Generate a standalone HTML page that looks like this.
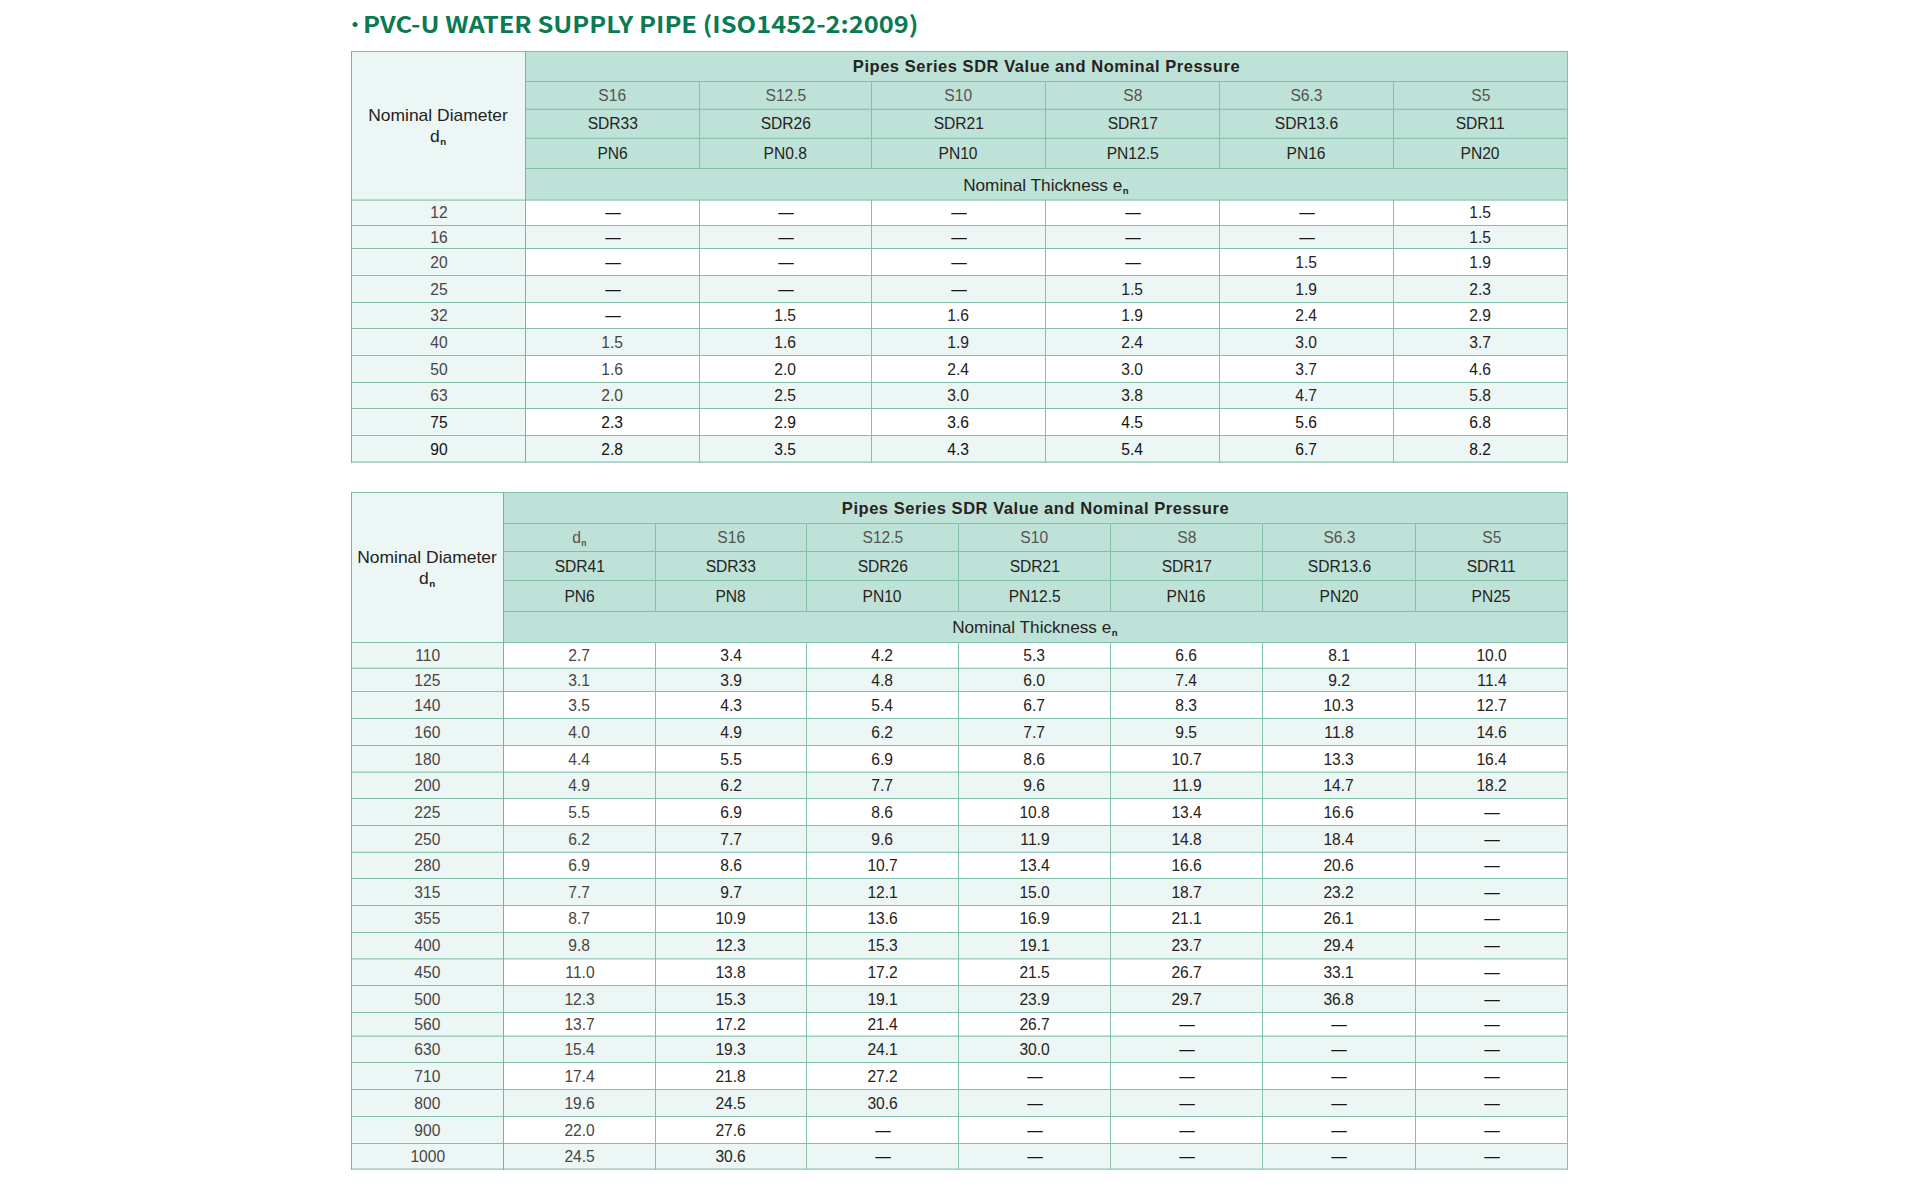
<!DOCTYPE html>
<html lang="en"><head><meta charset="utf-8"><title>PVC-U WATER SUPPLY PIPE</title>
<style>
html,body{margin:0;padding:0;background:#fff;}
body{width:1920px;height:1198px;position:relative;overflow:hidden;font-family:"Liberation Sans",Arial,sans-serif;color:#272220;font-size:16px;}
.c{position:absolute;box-sizing:border-box;}
.lt{background:#ebf6f5;}
.dk{background:#bee2d8;}
.wh{background:#fff;}
.t{text-align:center;white-space:nowrap;}
.t span,.nd span{display:inline-block;}
.t span{transform:scaleX(.975);}
.nd{display:flex;align-items:center;justify-content:center;text-align:center;white-space:nowrap;}
.nd span{font-size:15.75px;line-height:21px;transform:scaleX(1.108);position:relative;top:0px;}
.hb span{font-weight:bold;font-size:16.5px;letter-spacing:.54px;transform:none;}
.nt span{font-size:15.75px;transform:scaleX(1.09);position:relative;left:-1px;top:1px;}
.g{color:#575350;}
.k{color:#151211;}
.y{color:#4a4542;}
.d{color:#1c1715;}
sub{font-size:8.75px;font-weight:bold;vertical-align:baseline;position:relative;top:3px;margin-left:.5px;line-height:0;}
.hl{position:absolute;height:1px;background:#80bfa9;}
.vl{position:absolute;width:1px;background:#84c1ac;}
.vd{background:#70b8a0;}
#title{position:absolute;left:363px;top:6px;font-family:"Noto Sans CJK SC","Liberation Sans",sans-serif;font-weight:bold;font-size:23px;line-height:34px;color:#0a7a52;white-space:nowrap;}
#title span{display:inline-block;transform-origin:0 50%;transform:scaleX(1.105);}
#dot{position:absolute;left:340px;top:7px;width:30px;text-align:center;font-family:"Noto Sans CJK SC",sans-serif;font-weight:bold;font-size:20px;line-height:34px;color:#0a7a52;}
</style></head><body>
<div id="dot">·</div><div id="title"><span>PVC-U WATER SUPPLY PIPE (ISO1452-2:2009)</span></div>
<div class="c lt" style="left:351px;top:51px;width:174px;height:149px;"></div>
<div class="c nd" style="left:352px;top:52px;width:173px;height:148px"><span>Nominal Diameter<br>d<sub>n</sub></span></div>
<div class="c dk" style="left:525px;top:51px;width:1042px;height:149px;"></div>
<div class="c t hb" style="left:526px;top:52px;width:1041px;height:29px;line-height:29px"><span>Pipes Series SDR Value and Nominal Pressure</span></div>
<div class="c t h g" style="left:526px;top:82px;width:173px;height:27px;line-height:27px"><span>S16</span></div>
<div class="c t h g" style="left:700px;top:82px;width:171px;height:27px;line-height:27px"><span>S12.5</span></div>
<div class="c t h g" style="left:872px;top:82px;width:173px;height:27px;line-height:27px"><span>S10</span></div>
<div class="c t h g" style="left:1046px;top:82px;width:173px;height:27px;line-height:27px"><span>S8</span></div>
<div class="c t h g" style="left:1220px;top:82px;width:173px;height:27px;line-height:27px"><span>S6.3</span></div>
<div class="c t h g" style="left:1394px;top:82px;width:173px;height:27px;line-height:27px"><span>S5</span></div>
<div class="c t h" style="left:526px;top:110px;width:173px;height:28px;line-height:28px"><span>SDR33</span></div>
<div class="c t h" style="left:700px;top:110px;width:171px;height:28px;line-height:28px"><span>SDR26</span></div>
<div class="c t h" style="left:872px;top:110px;width:173px;height:28px;line-height:28px"><span>SDR21</span></div>
<div class="c t h" style="left:1046px;top:110px;width:173px;height:28px;line-height:28px"><span>SDR17</span></div>
<div class="c t h" style="left:1220px;top:110px;width:173px;height:28px;line-height:28px"><span>SDR13.6</span></div>
<div class="c t h" style="left:1394px;top:110px;width:173px;height:28px;line-height:28px"><span>SDR11</span></div>
<div class="c t h" style="left:526px;top:139px;width:173px;height:29px;line-height:29px"><span>PN6</span></div>
<div class="c t h" style="left:700px;top:139px;width:171px;height:29px;line-height:29px"><span>PN0.8</span></div>
<div class="c t h" style="left:872px;top:139px;width:173px;height:29px;line-height:29px"><span>PN10</span></div>
<div class="c t h" style="left:1046px;top:139px;width:173px;height:29px;line-height:29px"><span>PN12.5</span></div>
<div class="c t h" style="left:1220px;top:139px;width:173px;height:29px;line-height:29px"><span>PN16</span></div>
<div class="c t h" style="left:1394px;top:139px;width:173px;height:29px;line-height:29px"><span>PN20</span></div>
<div class="c t nt" style="left:526px;top:169px;width:1041px;height:31px;line-height:31px"><span>Nominal Thickness e<sub>n</sub></span></div>
<div class="c wh" style="left:351px;top:200px;width:1216px;height:25px;"></div>
<div class="c lt" style="left:351px;top:200px;width:174px;height:25px;"></div>
<div class="c t  y" style="left:352px;top:201px;width:173px;height:24px;line-height:24px"><span>12</span></div>
<div class="c t d y" style="left:526px;top:201px;width:173px;height:24px;line-height:24px"><span>—</span></div>
<div class="c t d" style="left:700px;top:201px;width:171px;height:24px;line-height:24px"><span>—</span></div>
<div class="c t d" style="left:872px;top:201px;width:173px;height:24px;line-height:24px"><span>—</span></div>
<div class="c t d" style="left:1046px;top:201px;width:173px;height:24px;line-height:24px"><span>—</span></div>
<div class="c t d" style="left:1220px;top:201px;width:173px;height:24px;line-height:24px"><span>—</span></div>
<div class="c t " style="left:1394px;top:201px;width:173px;height:24px;line-height:24px"><span>1.5</span></div>
<div class="c lt" style="left:351px;top:225px;width:1216px;height:23px;"></div>
<div class="c lt" style="left:351px;top:225px;width:174px;height:23px;"></div>
<div class="c t  y" style="left:352px;top:227px;width:173px;height:22px;line-height:22px"><span>16</span></div>
<div class="c t d y" style="left:526px;top:227px;width:173px;height:22px;line-height:22px"><span>—</span></div>
<div class="c t d" style="left:700px;top:227px;width:171px;height:22px;line-height:22px"><span>—</span></div>
<div class="c t d" style="left:872px;top:227px;width:173px;height:22px;line-height:22px"><span>—</span></div>
<div class="c t d" style="left:1046px;top:227px;width:173px;height:22px;line-height:22px"><span>—</span></div>
<div class="c t d" style="left:1220px;top:227px;width:173px;height:22px;line-height:22px"><span>—</span></div>
<div class="c t " style="left:1394px;top:227px;width:173px;height:22px;line-height:22px"><span>1.5</span></div>
<div class="c wh" style="left:351px;top:248px;width:1216px;height:27px;"></div>
<div class="c lt" style="left:351px;top:248px;width:174px;height:27px;"></div>
<div class="c t  y" style="left:352px;top:250px;width:173px;height:26px;line-height:26px"><span>20</span></div>
<div class="c t d y" style="left:526px;top:250px;width:173px;height:26px;line-height:26px"><span>—</span></div>
<div class="c t d" style="left:700px;top:250px;width:171px;height:26px;line-height:26px"><span>—</span></div>
<div class="c t d" style="left:872px;top:250px;width:173px;height:26px;line-height:26px"><span>—</span></div>
<div class="c t d" style="left:1046px;top:250px;width:173px;height:26px;line-height:26px"><span>—</span></div>
<div class="c t " style="left:1220px;top:250px;width:173px;height:26px;line-height:26px"><span>1.5</span></div>
<div class="c t " style="left:1394px;top:250px;width:173px;height:26px;line-height:26px"><span>1.9</span></div>
<div class="c lt" style="left:351px;top:275px;width:1216px;height:27px;"></div>
<div class="c lt" style="left:351px;top:275px;width:174px;height:27px;"></div>
<div class="c t  y" style="left:352px;top:277px;width:173px;height:26px;line-height:26px"><span>25</span></div>
<div class="c t d y" style="left:526px;top:277px;width:173px;height:26px;line-height:26px"><span>—</span></div>
<div class="c t d" style="left:700px;top:277px;width:171px;height:26px;line-height:26px"><span>—</span></div>
<div class="c t d" style="left:872px;top:277px;width:173px;height:26px;line-height:26px"><span>—</span></div>
<div class="c t " style="left:1046px;top:277px;width:173px;height:26px;line-height:26px"><span>1.5</span></div>
<div class="c t " style="left:1220px;top:277px;width:173px;height:26px;line-height:26px"><span>1.9</span></div>
<div class="c t " style="left:1394px;top:277px;width:173px;height:26px;line-height:26px"><span>2.3</span></div>
<div class="c wh" style="left:351px;top:302px;width:1216px;height:26px;"></div>
<div class="c lt" style="left:351px;top:302px;width:174px;height:26px;"></div>
<div class="c t  y" style="left:352px;top:303px;width:173px;height:25px;line-height:25px"><span>32</span></div>
<div class="c t d y" style="left:526px;top:303px;width:173px;height:25px;line-height:25px"><span>—</span></div>
<div class="c t " style="left:700px;top:303px;width:171px;height:25px;line-height:25px"><span>1.5</span></div>
<div class="c t " style="left:872px;top:303px;width:173px;height:25px;line-height:25px"><span>1.6</span></div>
<div class="c t " style="left:1046px;top:303px;width:173px;height:25px;line-height:25px"><span>1.9</span></div>
<div class="c t " style="left:1220px;top:303px;width:173px;height:25px;line-height:25px"><span>2.4</span></div>
<div class="c t " style="left:1394px;top:303px;width:173px;height:25px;line-height:25px"><span>2.9</span></div>
<div class="c lt" style="left:351px;top:328px;width:1216px;height:27px;"></div>
<div class="c lt" style="left:351px;top:328px;width:174px;height:27px;"></div>
<div class="c t  y" style="left:352px;top:330px;width:173px;height:26px;line-height:26px"><span>40</span></div>
<div class="c t  y" style="left:526px;top:330px;width:173px;height:26px;line-height:26px"><span>1.5</span></div>
<div class="c t " style="left:700px;top:330px;width:171px;height:26px;line-height:26px"><span>1.6</span></div>
<div class="c t " style="left:872px;top:330px;width:173px;height:26px;line-height:26px"><span>1.9</span></div>
<div class="c t " style="left:1046px;top:330px;width:173px;height:26px;line-height:26px"><span>2.4</span></div>
<div class="c t " style="left:1220px;top:330px;width:173px;height:26px;line-height:26px"><span>3.0</span></div>
<div class="c t " style="left:1394px;top:330px;width:173px;height:26px;line-height:26px"><span>3.7</span></div>
<div class="c wh" style="left:351px;top:355px;width:1216px;height:27px;"></div>
<div class="c lt" style="left:351px;top:355px;width:174px;height:27px;"></div>
<div class="c t  y" style="left:352px;top:357px;width:173px;height:26px;line-height:26px"><span>50</span></div>
<div class="c t  y" style="left:526px;top:357px;width:173px;height:26px;line-height:26px"><span>1.6</span></div>
<div class="c t " style="left:700px;top:357px;width:171px;height:26px;line-height:26px"><span>2.0</span></div>
<div class="c t " style="left:872px;top:357px;width:173px;height:26px;line-height:26px"><span>2.4</span></div>
<div class="c t " style="left:1046px;top:357px;width:173px;height:26px;line-height:26px"><span>3.0</span></div>
<div class="c t " style="left:1220px;top:357px;width:173px;height:26px;line-height:26px"><span>3.7</span></div>
<div class="c t " style="left:1394px;top:357px;width:173px;height:26px;line-height:26px"><span>4.6</span></div>
<div class="c lt" style="left:351px;top:382px;width:1216px;height:26px;"></div>
<div class="c lt" style="left:351px;top:382px;width:174px;height:26px;"></div>
<div class="c t  y" style="left:352px;top:383px;width:173px;height:25px;line-height:25px"><span>63</span></div>
<div class="c t  y" style="left:526px;top:383px;width:173px;height:25px;line-height:25px"><span>2.0</span></div>
<div class="c t " style="left:700px;top:383px;width:171px;height:25px;line-height:25px"><span>2.5</span></div>
<div class="c t " style="left:872px;top:383px;width:173px;height:25px;line-height:25px"><span>3.0</span></div>
<div class="c t " style="left:1046px;top:383px;width:173px;height:25px;line-height:25px"><span>3.8</span></div>
<div class="c t " style="left:1220px;top:383px;width:173px;height:25px;line-height:25px"><span>4.7</span></div>
<div class="c t " style="left:1394px;top:383px;width:173px;height:25px;line-height:25px"><span>5.8</span></div>
<div class="c wh" style="left:351px;top:408px;width:1216px;height:27px;"></div>
<div class="c lt" style="left:351px;top:408px;width:174px;height:27px;"></div>
<div class="c t  k" style="left:352px;top:410px;width:173px;height:26px;line-height:26px"><span>75</span></div>
<div class="c t  k" style="left:526px;top:410px;width:173px;height:26px;line-height:26px"><span>2.3</span></div>
<div class="c t  k" style="left:700px;top:410px;width:171px;height:26px;line-height:26px"><span>2.9</span></div>
<div class="c t  k" style="left:872px;top:410px;width:173px;height:26px;line-height:26px"><span>3.6</span></div>
<div class="c t  k" style="left:1046px;top:410px;width:173px;height:26px;line-height:26px"><span>4.5</span></div>
<div class="c t  k" style="left:1220px;top:410px;width:173px;height:26px;line-height:26px"><span>5.6</span></div>
<div class="c t  k" style="left:1394px;top:410px;width:173px;height:26px;line-height:26px"><span>6.8</span></div>
<div class="c lt" style="left:351px;top:435px;width:1216px;height:27px;"></div>
<div class="c lt" style="left:351px;top:435px;width:174px;height:27px;"></div>
<div class="c t  k" style="left:352px;top:437px;width:173px;height:26px;line-height:26px"><span>90</span></div>
<div class="c t  k" style="left:526px;top:437px;width:173px;height:26px;line-height:26px"><span>2.8</span></div>
<div class="c t  k" style="left:700px;top:437px;width:171px;height:26px;line-height:26px"><span>3.5</span></div>
<div class="c t  k" style="left:872px;top:437px;width:173px;height:26px;line-height:26px"><span>4.3</span></div>
<div class="c t  k" style="left:1046px;top:437px;width:173px;height:26px;line-height:26px"><span>5.4</span></div>
<div class="c t  k" style="left:1220px;top:437px;width:173px;height:26px;line-height:26px"><span>6.7</span></div>
<div class="c t  k" style="left:1394px;top:437px;width:173px;height:26px;line-height:26px"><span>8.2</span></div>
<div class="hl" style="left:351px;top:51px;width:1217px"></div>
<div class="hl" style="left:525px;top:81px;width:1043px"></div>
<div class="hl" style="left:525px;top:108px;width:1043px;opacity:0.25"></div>
<div class="hl" style="left:525px;top:109px;width:1043px;opacity:0.85"></div>
<div class="hl" style="left:525px;top:137px;width:1043px;opacity:0.30"></div>
<div class="hl" style="left:525px;top:138px;width:1043px;opacity:0.80"></div>
<div class="hl" style="left:525px;top:168px;width:1043px"></div>
<div class="hl" style="left:351px;top:199px;width:1217px;opacity:0.47"></div>
<div class="hl" style="left:351px;top:200px;width:1217px;opacity:0.63"></div>
<div class="hl" style="left:351px;top:225px;width:1217px"></div>
<div class="hl" style="left:351px;top:248px;width:1217px"></div>
<div class="hl" style="left:351px;top:275px;width:1217px"></div>
<div class="hl" style="left:351px;top:302px;width:1217px"></div>
<div class="hl" style="left:351px;top:328px;width:1217px"></div>
<div class="hl" style="left:351px;top:355px;width:1217px"></div>
<div class="hl" style="left:351px;top:382px;width:1217px"></div>
<div class="hl" style="left:351px;top:408px;width:1217px"></div>
<div class="hl" style="left:351px;top:435px;width:1217px"></div>
<div class="hl" style="left:351px;top:461px;width:1217px;opacity:0.45"></div>
<div class="hl" style="left:351px;top:462px;width:1217px;opacity:0.65"></div>
<div class="vl vd" style="left:351px;top:51px;height:412px"></div>
<div class="vl vd" style="left:525px;top:51px;height:412px"></div>
<div class="vl " style="left:1567px;top:51px;height:412px"></div>
<div class="vl " style="left:699px;top:81px;height:88px"></div>
<div class="vl " style="left:699px;top:200px;height:263px"></div>
<div class="vl " style="left:871px;top:81px;height:88px"></div>
<div class="vl " style="left:871px;top:200px;height:263px"></div>
<div class="vl " style="left:1045px;top:81px;height:88px"></div>
<div class="vl " style="left:1045px;top:200px;height:263px"></div>
<div class="vl " style="left:1219px;top:81px;height:88px"></div>
<div class="vl " style="left:1219px;top:200px;height:263px"></div>
<div class="vl " style="left:1393px;top:81px;height:88px"></div>
<div class="vl " style="left:1393px;top:200px;height:263px"></div>
<div class="c lt" style="left:351px;top:492px;width:152px;height:150px;"></div>
<div class="c nd" style="left:352px;top:493px;width:151px;height:149px"><span>Nominal Diameter<br>d<sub>n</sub></span></div>
<div class="c dk" style="left:503px;top:492px;width:1064px;height:150px;"></div>
<div class="c t hb" style="left:504px;top:493px;width:1063px;height:30px;line-height:30px"><span>Pipes Series SDR Value and Nominal Pressure</span></div>
<div class="c t h g" style="left:504px;top:524px;width:151px;height:27px;line-height:27px"><span>d<sub>n</sub></span></div>
<div class="c t h g" style="left:656px;top:524px;width:150px;height:27px;line-height:27px"><span>S16</span></div>
<div class="c t h g" style="left:807px;top:524px;width:151px;height:27px;line-height:27px"><span>S12.5</span></div>
<div class="c t h g" style="left:959px;top:524px;width:151px;height:27px;line-height:27px"><span>S10</span></div>
<div class="c t h g" style="left:1111px;top:524px;width:151px;height:27px;line-height:27px"><span>S8</span></div>
<div class="c t h g" style="left:1263px;top:524px;width:152px;height:27px;line-height:27px"><span>S6.3</span></div>
<div class="c t h g" style="left:1416px;top:524px;width:151px;height:27px;line-height:27px"><span>S5</span></div>
<div class="c t h" style="left:504px;top:553px;width:151px;height:28px;line-height:28px"><span>SDR41</span></div>
<div class="c t h" style="left:656px;top:553px;width:150px;height:28px;line-height:28px"><span>SDR33</span></div>
<div class="c t h" style="left:807px;top:553px;width:151px;height:28px;line-height:28px"><span>SDR26</span></div>
<div class="c t h" style="left:959px;top:553px;width:151px;height:28px;line-height:28px"><span>SDR21</span></div>
<div class="c t h" style="left:1111px;top:553px;width:151px;height:28px;line-height:28px"><span>SDR17</span></div>
<div class="c t h" style="left:1263px;top:553px;width:152px;height:28px;line-height:28px"><span>SDR13.6</span></div>
<div class="c t h" style="left:1416px;top:553px;width:151px;height:28px;line-height:28px"><span>SDR11</span></div>
<div class="c t h" style="left:504px;top:582px;width:151px;height:30px;line-height:30px"><span>PN6</span></div>
<div class="c t h" style="left:656px;top:582px;width:150px;height:30px;line-height:30px"><span>PN8</span></div>
<div class="c t h" style="left:807px;top:582px;width:151px;height:30px;line-height:30px"><span>PN10</span></div>
<div class="c t h" style="left:959px;top:582px;width:151px;height:30px;line-height:30px"><span>PN12.5</span></div>
<div class="c t h" style="left:1111px;top:582px;width:151px;height:30px;line-height:30px"><span>PN16</span></div>
<div class="c t h" style="left:1263px;top:582px;width:152px;height:30px;line-height:30px"><span>PN20</span></div>
<div class="c t h" style="left:1416px;top:582px;width:151px;height:30px;line-height:30px"><span>PN25</span></div>
<div class="c t nt" style="left:504px;top:612px;width:1063px;height:30px;line-height:30px"><span>Nominal Thickness e<sub>n</sub></span></div>
<div class="c wh" style="left:351px;top:642px;width:1216px;height:26px;"></div>
<div class="c lt" style="left:351px;top:642px;width:152px;height:26px;"></div>
<div class="c t  y" style="left:352px;top:643px;width:151px;height:25px;line-height:25px"><span>110</span></div>
<div class="c t  y" style="left:504px;top:643px;width:151px;height:25px;line-height:25px"><span>2.7</span></div>
<div class="c t " style="left:656px;top:643px;width:150px;height:25px;line-height:25px"><span>3.4</span></div>
<div class="c t " style="left:807px;top:643px;width:151px;height:25px;line-height:25px"><span>4.2</span></div>
<div class="c t " style="left:959px;top:643px;width:151px;height:25px;line-height:25px"><span>5.3</span></div>
<div class="c t " style="left:1111px;top:643px;width:151px;height:25px;line-height:25px"><span>6.6</span></div>
<div class="c t " style="left:1263px;top:643px;width:152px;height:25px;line-height:25px"><span>8.1</span></div>
<div class="c t " style="left:1416px;top:643px;width:151px;height:25px;line-height:25px"><span>10.0</span></div>
<div class="c lt" style="left:351px;top:668px;width:1216px;height:23px;"></div>
<div class="c lt" style="left:351px;top:668px;width:152px;height:23px;"></div>
<div class="c t  y" style="left:352px;top:670px;width:151px;height:22px;line-height:22px"><span>125</span></div>
<div class="c t  y" style="left:504px;top:670px;width:151px;height:22px;line-height:22px"><span>3.1</span></div>
<div class="c t " style="left:656px;top:670px;width:150px;height:22px;line-height:22px"><span>3.9</span></div>
<div class="c t " style="left:807px;top:670px;width:151px;height:22px;line-height:22px"><span>4.8</span></div>
<div class="c t " style="left:959px;top:670px;width:151px;height:22px;line-height:22px"><span>6.0</span></div>
<div class="c t " style="left:1111px;top:670px;width:151px;height:22px;line-height:22px"><span>7.4</span></div>
<div class="c t " style="left:1263px;top:670px;width:152px;height:22px;line-height:22px"><span>9.2</span></div>
<div class="c t " style="left:1416px;top:670px;width:151px;height:22px;line-height:22px"><span>11.4</span></div>
<div class="c wh" style="left:351px;top:691px;width:1216px;height:27px;"></div>
<div class="c lt" style="left:351px;top:691px;width:152px;height:27px;"></div>
<div class="c t  y" style="left:352px;top:693px;width:151px;height:26px;line-height:26px"><span>140</span></div>
<div class="c t  y" style="left:504px;top:693px;width:151px;height:26px;line-height:26px"><span>3.5</span></div>
<div class="c t " style="left:656px;top:693px;width:150px;height:26px;line-height:26px"><span>4.3</span></div>
<div class="c t " style="left:807px;top:693px;width:151px;height:26px;line-height:26px"><span>5.4</span></div>
<div class="c t " style="left:959px;top:693px;width:151px;height:26px;line-height:26px"><span>6.7</span></div>
<div class="c t " style="left:1111px;top:693px;width:151px;height:26px;line-height:26px"><span>8.3</span></div>
<div class="c t " style="left:1263px;top:693px;width:152px;height:26px;line-height:26px"><span>10.3</span></div>
<div class="c t " style="left:1416px;top:693px;width:151px;height:26px;line-height:26px"><span>12.7</span></div>
<div class="c lt" style="left:351px;top:718px;width:1216px;height:27px;"></div>
<div class="c lt" style="left:351px;top:718px;width:152px;height:27px;"></div>
<div class="c t  y" style="left:352px;top:720px;width:151px;height:26px;line-height:26px"><span>160</span></div>
<div class="c t  y" style="left:504px;top:720px;width:151px;height:26px;line-height:26px"><span>4.0</span></div>
<div class="c t " style="left:656px;top:720px;width:150px;height:26px;line-height:26px"><span>4.9</span></div>
<div class="c t " style="left:807px;top:720px;width:151px;height:26px;line-height:26px"><span>6.2</span></div>
<div class="c t " style="left:959px;top:720px;width:151px;height:26px;line-height:26px"><span>7.7</span></div>
<div class="c t " style="left:1111px;top:720px;width:151px;height:26px;line-height:26px"><span>9.5</span></div>
<div class="c t " style="left:1263px;top:720px;width:152px;height:26px;line-height:26px"><span>11.8</span></div>
<div class="c t " style="left:1416px;top:720px;width:151px;height:26px;line-height:26px"><span>14.6</span></div>
<div class="c wh" style="left:351px;top:745px;width:1216px;height:27px;"></div>
<div class="c lt" style="left:351px;top:745px;width:152px;height:27px;"></div>
<div class="c t  y" style="left:352px;top:747px;width:151px;height:26px;line-height:26px"><span>180</span></div>
<div class="c t  y" style="left:504px;top:747px;width:151px;height:26px;line-height:26px"><span>4.4</span></div>
<div class="c t " style="left:656px;top:747px;width:150px;height:26px;line-height:26px"><span>5.5</span></div>
<div class="c t " style="left:807px;top:747px;width:151px;height:26px;line-height:26px"><span>6.9</span></div>
<div class="c t " style="left:959px;top:747px;width:151px;height:26px;line-height:26px"><span>8.6</span></div>
<div class="c t " style="left:1111px;top:747px;width:151px;height:26px;line-height:26px"><span>10.7</span></div>
<div class="c t " style="left:1263px;top:747px;width:152px;height:26px;line-height:26px"><span>13.3</span></div>
<div class="c t " style="left:1416px;top:747px;width:151px;height:26px;line-height:26px"><span>16.4</span></div>
<div class="c lt" style="left:351px;top:772px;width:1216px;height:26px;"></div>
<div class="c lt" style="left:351px;top:772px;width:152px;height:26px;"></div>
<div class="c t  y" style="left:352px;top:773px;width:151px;height:25px;line-height:25px"><span>200</span></div>
<div class="c t  y" style="left:504px;top:773px;width:151px;height:25px;line-height:25px"><span>4.9</span></div>
<div class="c t " style="left:656px;top:773px;width:150px;height:25px;line-height:25px"><span>6.2</span></div>
<div class="c t " style="left:807px;top:773px;width:151px;height:25px;line-height:25px"><span>7.7</span></div>
<div class="c t " style="left:959px;top:773px;width:151px;height:25px;line-height:25px"><span>9.6</span></div>
<div class="c t " style="left:1111px;top:773px;width:151px;height:25px;line-height:25px"><span>11.9</span></div>
<div class="c t " style="left:1263px;top:773px;width:152px;height:25px;line-height:25px"><span>14.7</span></div>
<div class="c t " style="left:1416px;top:773px;width:151px;height:25px;line-height:25px"><span>18.2</span></div>
<div class="c wh" style="left:351px;top:798px;width:1216px;height:27px;"></div>
<div class="c lt" style="left:351px;top:798px;width:152px;height:27px;"></div>
<div class="c t  y" style="left:352px;top:800px;width:151px;height:26px;line-height:26px"><span>225</span></div>
<div class="c t  y" style="left:504px;top:800px;width:151px;height:26px;line-height:26px"><span>5.5</span></div>
<div class="c t " style="left:656px;top:800px;width:150px;height:26px;line-height:26px"><span>6.9</span></div>
<div class="c t " style="left:807px;top:800px;width:151px;height:26px;line-height:26px"><span>8.6</span></div>
<div class="c t " style="left:959px;top:800px;width:151px;height:26px;line-height:26px"><span>10.8</span></div>
<div class="c t " style="left:1111px;top:800px;width:151px;height:26px;line-height:26px"><span>13.4</span></div>
<div class="c t " style="left:1263px;top:800px;width:152px;height:26px;line-height:26px"><span>16.6</span></div>
<div class="c t d" style="left:1416px;top:800px;width:151px;height:26px;line-height:26px"><span>—</span></div>
<div class="c lt" style="left:351px;top:825px;width:1216px;height:27px;"></div>
<div class="c lt" style="left:351px;top:825px;width:152px;height:27px;"></div>
<div class="c t  y" style="left:352px;top:827px;width:151px;height:26px;line-height:26px"><span>250</span></div>
<div class="c t  y" style="left:504px;top:827px;width:151px;height:26px;line-height:26px"><span>6.2</span></div>
<div class="c t " style="left:656px;top:827px;width:150px;height:26px;line-height:26px"><span>7.7</span></div>
<div class="c t " style="left:807px;top:827px;width:151px;height:26px;line-height:26px"><span>9.6</span></div>
<div class="c t " style="left:959px;top:827px;width:151px;height:26px;line-height:26px"><span>11.9</span></div>
<div class="c t " style="left:1111px;top:827px;width:151px;height:26px;line-height:26px"><span>14.8</span></div>
<div class="c t " style="left:1263px;top:827px;width:152px;height:26px;line-height:26px"><span>18.4</span></div>
<div class="c t d" style="left:1416px;top:827px;width:151px;height:26px;line-height:26px"><span>—</span></div>
<div class="c wh" style="left:351px;top:852px;width:1216px;height:26px;"></div>
<div class="c lt" style="left:351px;top:852px;width:152px;height:26px;"></div>
<div class="c t  y" style="left:352px;top:853px;width:151px;height:25px;line-height:25px"><span>280</span></div>
<div class="c t  y" style="left:504px;top:853px;width:151px;height:25px;line-height:25px"><span>6.9</span></div>
<div class="c t " style="left:656px;top:853px;width:150px;height:25px;line-height:25px"><span>8.6</span></div>
<div class="c t " style="left:807px;top:853px;width:151px;height:25px;line-height:25px"><span>10.7</span></div>
<div class="c t " style="left:959px;top:853px;width:151px;height:25px;line-height:25px"><span>13.4</span></div>
<div class="c t " style="left:1111px;top:853px;width:151px;height:25px;line-height:25px"><span>16.6</span></div>
<div class="c t " style="left:1263px;top:853px;width:152px;height:25px;line-height:25px"><span>20.6</span></div>
<div class="c t d" style="left:1416px;top:853px;width:151px;height:25px;line-height:25px"><span>—</span></div>
<div class="c lt" style="left:351px;top:878px;width:1216px;height:27px;"></div>
<div class="c lt" style="left:351px;top:878px;width:152px;height:27px;"></div>
<div class="c t  y" style="left:352px;top:880px;width:151px;height:26px;line-height:26px"><span>315</span></div>
<div class="c t  y" style="left:504px;top:880px;width:151px;height:26px;line-height:26px"><span>7.7</span></div>
<div class="c t " style="left:656px;top:880px;width:150px;height:26px;line-height:26px"><span>9.7</span></div>
<div class="c t " style="left:807px;top:880px;width:151px;height:26px;line-height:26px"><span>12.1</span></div>
<div class="c t " style="left:959px;top:880px;width:151px;height:26px;line-height:26px"><span>15.0</span></div>
<div class="c t " style="left:1111px;top:880px;width:151px;height:26px;line-height:26px"><span>18.7</span></div>
<div class="c t " style="left:1263px;top:880px;width:152px;height:26px;line-height:26px"><span>23.2</span></div>
<div class="c t d" style="left:1416px;top:880px;width:151px;height:26px;line-height:26px"><span>—</span></div>
<div class="c wh" style="left:351px;top:905px;width:1216px;height:27px;"></div>
<div class="c lt" style="left:351px;top:905px;width:152px;height:27px;"></div>
<div class="c t  y" style="left:352px;top:906px;width:151px;height:26px;line-height:26px"><span>355</span></div>
<div class="c t  y" style="left:504px;top:906px;width:151px;height:26px;line-height:26px"><span>8.7</span></div>
<div class="c t " style="left:656px;top:906px;width:150px;height:26px;line-height:26px"><span>10.9</span></div>
<div class="c t " style="left:807px;top:906px;width:151px;height:26px;line-height:26px"><span>13.6</span></div>
<div class="c t " style="left:959px;top:906px;width:151px;height:26px;line-height:26px"><span>16.9</span></div>
<div class="c t " style="left:1111px;top:906px;width:151px;height:26px;line-height:26px"><span>21.1</span></div>
<div class="c t " style="left:1263px;top:906px;width:152px;height:26px;line-height:26px"><span>26.1</span></div>
<div class="c t d" style="left:1416px;top:906px;width:151px;height:26px;line-height:26px"><span>—</span></div>
<div class="c lt" style="left:351px;top:932px;width:1216px;height:26px;"></div>
<div class="c lt" style="left:351px;top:932px;width:152px;height:26px;"></div>
<div class="c t  y" style="left:352px;top:933px;width:151px;height:25px;line-height:25px"><span>400</span></div>
<div class="c t  y" style="left:504px;top:933px;width:151px;height:25px;line-height:25px"><span>9.8</span></div>
<div class="c t " style="left:656px;top:933px;width:150px;height:25px;line-height:25px"><span>12.3</span></div>
<div class="c t " style="left:807px;top:933px;width:151px;height:25px;line-height:25px"><span>15.3</span></div>
<div class="c t " style="left:959px;top:933px;width:151px;height:25px;line-height:25px"><span>19.1</span></div>
<div class="c t " style="left:1111px;top:933px;width:151px;height:25px;line-height:25px"><span>23.7</span></div>
<div class="c t " style="left:1263px;top:933px;width:152px;height:25px;line-height:25px"><span>29.4</span></div>
<div class="c t d" style="left:1416px;top:933px;width:151px;height:25px;line-height:25px"><span>—</span></div>
<div class="c wh" style="left:351px;top:958px;width:1216px;height:27px;"></div>
<div class="c lt" style="left:351px;top:958px;width:152px;height:27px;"></div>
<div class="c t  y" style="left:352px;top:960px;width:151px;height:26px;line-height:26px"><span>450</span></div>
<div class="c t  y" style="left:504px;top:960px;width:151px;height:26px;line-height:26px"><span>11.0</span></div>
<div class="c t " style="left:656px;top:960px;width:150px;height:26px;line-height:26px"><span>13.8</span></div>
<div class="c t " style="left:807px;top:960px;width:151px;height:26px;line-height:26px"><span>17.2</span></div>
<div class="c t " style="left:959px;top:960px;width:151px;height:26px;line-height:26px"><span>21.5</span></div>
<div class="c t " style="left:1111px;top:960px;width:151px;height:26px;line-height:26px"><span>26.7</span></div>
<div class="c t " style="left:1263px;top:960px;width:152px;height:26px;line-height:26px"><span>33.1</span></div>
<div class="c t d" style="left:1416px;top:960px;width:151px;height:26px;line-height:26px"><span>—</span></div>
<div class="c lt" style="left:351px;top:985px;width:1216px;height:27px;"></div>
<div class="c lt" style="left:351px;top:985px;width:152px;height:27px;"></div>
<div class="c t  y" style="left:352px;top:987px;width:151px;height:26px;line-height:26px"><span>500</span></div>
<div class="c t  y" style="left:504px;top:987px;width:151px;height:26px;line-height:26px"><span>12.3</span></div>
<div class="c t " style="left:656px;top:987px;width:150px;height:26px;line-height:26px"><span>15.3</span></div>
<div class="c t " style="left:807px;top:987px;width:151px;height:26px;line-height:26px"><span>19.1</span></div>
<div class="c t " style="left:959px;top:987px;width:151px;height:26px;line-height:26px"><span>23.9</span></div>
<div class="c t " style="left:1111px;top:987px;width:151px;height:26px;line-height:26px"><span>29.7</span></div>
<div class="c t " style="left:1263px;top:987px;width:152px;height:26px;line-height:26px"><span>36.8</span></div>
<div class="c t d" style="left:1416px;top:987px;width:151px;height:26px;line-height:26px"><span>—</span></div>
<div class="c wh" style="left:351px;top:1012px;width:1216px;height:24px;"></div>
<div class="c lt" style="left:351px;top:1012px;width:152px;height:24px;"></div>
<div class="c t  y" style="left:352px;top:1013px;width:151px;height:23px;line-height:23px"><span>560</span></div>
<div class="c t  y" style="left:504px;top:1013px;width:151px;height:23px;line-height:23px"><span>13.7</span></div>
<div class="c t " style="left:656px;top:1013px;width:150px;height:23px;line-height:23px"><span>17.2</span></div>
<div class="c t " style="left:807px;top:1013px;width:151px;height:23px;line-height:23px"><span>21.4</span></div>
<div class="c t " style="left:959px;top:1013px;width:151px;height:23px;line-height:23px"><span>26.7</span></div>
<div class="c t d" style="left:1111px;top:1013px;width:151px;height:23px;line-height:23px"><span>—</span></div>
<div class="c t d" style="left:1263px;top:1013px;width:152px;height:23px;line-height:23px"><span>—</span></div>
<div class="c t d" style="left:1416px;top:1013px;width:151px;height:23px;line-height:23px"><span>—</span></div>
<div class="c lt" style="left:351px;top:1036px;width:1216px;height:26px;"></div>
<div class="c lt" style="left:351px;top:1036px;width:152px;height:26px;"></div>
<div class="c t  y" style="left:352px;top:1037px;width:151px;height:25px;line-height:25px"><span>630</span></div>
<div class="c t  y" style="left:504px;top:1037px;width:151px;height:25px;line-height:25px"><span>15.4</span></div>
<div class="c t " style="left:656px;top:1037px;width:150px;height:25px;line-height:25px"><span>19.3</span></div>
<div class="c t " style="left:807px;top:1037px;width:151px;height:25px;line-height:25px"><span>24.1</span></div>
<div class="c t " style="left:959px;top:1037px;width:151px;height:25px;line-height:25px"><span>30.0</span></div>
<div class="c t d" style="left:1111px;top:1037px;width:151px;height:25px;line-height:25px"><span>—</span></div>
<div class="c t d" style="left:1263px;top:1037px;width:152px;height:25px;line-height:25px"><span>—</span></div>
<div class="c t d" style="left:1416px;top:1037px;width:151px;height:25px;line-height:25px"><span>—</span></div>
<div class="c wh" style="left:351px;top:1062px;width:1216px;height:27px;"></div>
<div class="c lt" style="left:351px;top:1062px;width:152px;height:27px;"></div>
<div class="c t  y" style="left:352px;top:1064px;width:151px;height:26px;line-height:26px"><span>710</span></div>
<div class="c t  y" style="left:504px;top:1064px;width:151px;height:26px;line-height:26px"><span>17.4</span></div>
<div class="c t " style="left:656px;top:1064px;width:150px;height:26px;line-height:26px"><span>21.8</span></div>
<div class="c t " style="left:807px;top:1064px;width:151px;height:26px;line-height:26px"><span>27.2</span></div>
<div class="c t d" style="left:959px;top:1064px;width:151px;height:26px;line-height:26px"><span>—</span></div>
<div class="c t d" style="left:1111px;top:1064px;width:151px;height:26px;line-height:26px"><span>—</span></div>
<div class="c t d" style="left:1263px;top:1064px;width:152px;height:26px;line-height:26px"><span>—</span></div>
<div class="c t d" style="left:1416px;top:1064px;width:151px;height:26px;line-height:26px"><span>—</span></div>
<div class="c lt" style="left:351px;top:1089px;width:1216px;height:27px;"></div>
<div class="c lt" style="left:351px;top:1089px;width:152px;height:27px;"></div>
<div class="c t  y" style="left:352px;top:1091px;width:151px;height:26px;line-height:26px"><span>800</span></div>
<div class="c t  y" style="left:504px;top:1091px;width:151px;height:26px;line-height:26px"><span>19.6</span></div>
<div class="c t " style="left:656px;top:1091px;width:150px;height:26px;line-height:26px"><span>24.5</span></div>
<div class="c t " style="left:807px;top:1091px;width:151px;height:26px;line-height:26px"><span>30.6</span></div>
<div class="c t d" style="left:959px;top:1091px;width:151px;height:26px;line-height:26px"><span>—</span></div>
<div class="c t d" style="left:1111px;top:1091px;width:151px;height:26px;line-height:26px"><span>—</span></div>
<div class="c t d" style="left:1263px;top:1091px;width:152px;height:26px;line-height:26px"><span>—</span></div>
<div class="c t d" style="left:1416px;top:1091px;width:151px;height:26px;line-height:26px"><span>—</span></div>
<div class="c wh" style="left:351px;top:1116px;width:1216px;height:27px;"></div>
<div class="c lt" style="left:351px;top:1116px;width:152px;height:27px;"></div>
<div class="c t  y" style="left:352px;top:1118px;width:151px;height:26px;line-height:26px"><span>900</span></div>
<div class="c t  y" style="left:504px;top:1118px;width:151px;height:26px;line-height:26px"><span>22.0</span></div>
<div class="c t " style="left:656px;top:1118px;width:150px;height:26px;line-height:26px"><span>27.6</span></div>
<div class="c t d" style="left:807px;top:1118px;width:151px;height:26px;line-height:26px"><span>—</span></div>
<div class="c t d" style="left:959px;top:1118px;width:151px;height:26px;line-height:26px"><span>—</span></div>
<div class="c t d" style="left:1111px;top:1118px;width:151px;height:26px;line-height:26px"><span>—</span></div>
<div class="c t d" style="left:1263px;top:1118px;width:152px;height:26px;line-height:26px"><span>—</span></div>
<div class="c t d" style="left:1416px;top:1118px;width:151px;height:26px;line-height:26px"><span>—</span></div>
<div class="c lt" style="left:351px;top:1143px;width:1216px;height:26px;"></div>
<div class="c lt" style="left:351px;top:1143px;width:152px;height:26px;"></div>
<div class="c t  y" style="left:352px;top:1144px;width:151px;height:25px;line-height:25px"><span>1000</span></div>
<div class="c t  y" style="left:504px;top:1144px;width:151px;height:25px;line-height:25px"><span>24.5</span></div>
<div class="c t " style="left:656px;top:1144px;width:150px;height:25px;line-height:25px"><span>30.6</span></div>
<div class="c t d" style="left:807px;top:1144px;width:151px;height:25px;line-height:25px"><span>—</span></div>
<div class="c t d" style="left:959px;top:1144px;width:151px;height:25px;line-height:25px"><span>—</span></div>
<div class="c t d" style="left:1111px;top:1144px;width:151px;height:25px;line-height:25px"><span>—</span></div>
<div class="c t d" style="left:1263px;top:1144px;width:152px;height:25px;line-height:25px"><span>—</span></div>
<div class="c t d" style="left:1416px;top:1144px;width:151px;height:25px;line-height:25px"><span>—</span></div>
<div class="hl" style="left:351px;top:492px;width:1217px"></div>
<div class="hl" style="left:503px;top:523px;width:1065px"></div>
<div class="hl" style="left:503px;top:551px;width:1065px"></div>
<div class="hl" style="left:503px;top:580px;width:1065px"></div>
<div class="hl" style="left:503px;top:611px;width:1065px"></div>
<div class="hl" style="left:351px;top:642px;width:1217px"></div>
<div class="hl" style="left:351px;top:667px;width:1217px;opacity:0.31"></div>
<div class="hl" style="left:351px;top:668px;width:1217px;opacity:0.79"></div>
<div class="hl" style="left:351px;top:691px;width:1217px"></div>
<div class="hl" style="left:351px;top:718px;width:1217px"></div>
<div class="hl" style="left:351px;top:745px;width:1217px"></div>
<div class="hl" style="left:351px;top:771px;width:1217px;opacity:0.39"></div>
<div class="hl" style="left:351px;top:772px;width:1217px;opacity:0.71"></div>
<div class="hl" style="left:351px;top:798px;width:1217px"></div>
<div class="hl" style="left:351px;top:825px;width:1217px"></div>
<div class="hl" style="left:351px;top:851px;width:1217px;opacity:0.25"></div>
<div class="hl" style="left:351px;top:852px;width:1217px;opacity:0.85"></div>
<div class="hl" style="left:351px;top:878px;width:1217px"></div>
<div class="hl" style="left:351px;top:905px;width:1217px"></div>
<div class="hl" style="left:351px;top:932px;width:1217px"></div>
<div class="hl" style="left:351px;top:958px;width:1217px;opacity:0.70"></div>
<div class="hl" style="left:351px;top:959px;width:1217px;opacity:0.40"></div>
<div class="hl" style="left:351px;top:985px;width:1217px"></div>
<div class="hl" style="left:351px;top:1012px;width:1217px"></div>
<div class="hl" style="left:351px;top:1035px;width:1217px;opacity:0.40"></div>
<div class="hl" style="left:351px;top:1036px;width:1217px;opacity:0.70"></div>
<div class="hl" style="left:351px;top:1062px;width:1217px"></div>
<div class="hl" style="left:351px;top:1089px;width:1217px"></div>
<div class="hl" style="left:351px;top:1116px;width:1217px"></div>
<div class="hl" style="left:351px;top:1143px;width:1217px"></div>
<div class="hl" style="left:351px;top:1168px;width:1217px;opacity:0.45"></div>
<div class="hl" style="left:351px;top:1169px;width:1217px;opacity:0.65"></div>
<div class="vl vd" style="left:351px;top:492px;height:678px"></div>
<div class="vl vd" style="left:503px;top:492px;height:678px"></div>
<div class="vl " style="left:1567px;top:492px;height:678px"></div>
<div class="vl " style="left:655px;top:523px;height:89px"></div>
<div class="vl " style="left:655px;top:642px;height:528px"></div>
<div class="vl " style="left:806px;top:523px;height:89px"></div>
<div class="vl " style="left:806px;top:642px;height:528px"></div>
<div class="vl " style="left:958px;top:523px;height:89px"></div>
<div class="vl " style="left:958px;top:642px;height:528px"></div>
<div class="vl " style="left:1110px;top:523px;height:89px"></div>
<div class="vl " style="left:1110px;top:642px;height:528px"></div>
<div class="vl " style="left:1262px;top:523px;height:89px"></div>
<div class="vl " style="left:1262px;top:642px;height:528px"></div>
<div class="vl " style="left:1415px;top:523px;height:89px"></div>
<div class="vl " style="left:1415px;top:642px;height:528px"></div>
</body></html>
